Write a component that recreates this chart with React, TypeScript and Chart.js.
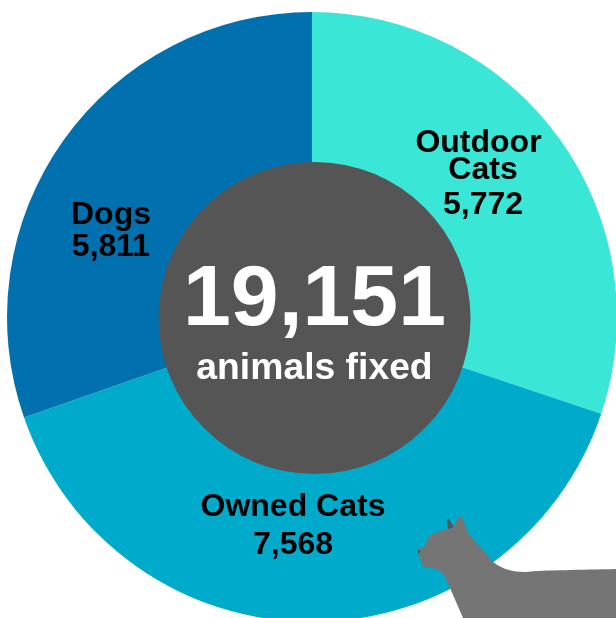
import React, { useEffect, useRef } from "react";
import { Chart, registerables } from "chart.js";

Chart.register(...registerables);

const categories = ["Outdoor Cats", "Owned Cats", "Dogs"];
const values = [5772, 7568, 5811];
const colors = ["#3AE6D6", "#00AACA", "#0170AE"];
const totalLabel = "19,151";
const subLabel = "animals fixed";
const sliceLabels = [
  { lines: ["Outdoor", "Cats", "5,772"], xs: [478.5, 483, 483], ys: [143, 170, 205] },
  { lines: ["Owned Cats", "7,568"], xs: [293, 293], ys: [507, 545] },
  { lines: ["Dogs", "5,811"], xs: [111, 111], ys: [215, 247] },
];

const FONT = '"Liberation Sans", Arial, sans-serif';

const overlay = {
  id: "overlay",
  afterDatasetsDraw(chart: Chart) {
    const { ctx } = chart;
    ctx.save();
    ctx.fillStyle = "#555555";
    ctx.beginPath();
    ctx.arc(314.5, 318, 156, 0, Math.PI * 2);
    ctx.fill();
    ctx.textAlign = "center";
    ctx.textBaseline = "middle";
    ctx.fillStyle = "#000000";
    ctx.font = `bold 32px ${FONT}`;
    sliceLabels.forEach((l) => {
      l.lines.forEach((t, i) => ctx.fillText(t, l.xs[i], l.ys[i]));
    });
    ctx.fillStyle = "#FFFFFF";
    ctx.font = `bold 86px ${FONT}`;
    ctx.fillText(totalLabel, 314.5, 301);
    ctx.font = `bold 37.3px ${FONT}`;
    ctx.fillText(subLabel, 314.5, 369);
    ctx.restore();
  },
};

export default function App() {
  const ref = useRef<HTMLCanvasElement>(null);
  useEffect(() => {
    const chart = new Chart(ref.current!, {
      type: "doughnut",
      data: {
        labels: categories,
        datasets: [{ data: values, backgroundColor: colors, borderWidth: 0 }],
      },
      options: {
        animation: false,
        responsive: false,
        cutout: "40%",
        layout: { padding: 7 },
        plugins: { legend: { display: false }, tooltip: { enabled: false } },
      },
      plugins: [overlay],
    });
    return () => chart.destroy();
  }, []);
  return (
    <div style={{ position: "absolute", left: 0, top: 0, width: 616, height: 618, overflow: "hidden", background: "#fff" }}>
      <canvas ref={ref} width={624} height={634} style={{ position: "absolute", left: 0, top: 0, width: 624, height: 634 }} />
      <svg width={616} height={618} style={{ position: "absolute", left: 0, top: 0 }}>
        <path
          fill="#757575"
          d="M417 550 L425 546 C427 541 428 537 431 535 C436 531 446 530 453 528 L459 516 L462 517 L468 533 L493 562 C502 569 512 572 525 572 C545 570 580 570 616 569 L616 618 L463 618 L450 588 L444 575 C440 570 434 567 424 568 Z"
        />
        <path fill="#555555" d="M447 519 L449 519 L454 527 L448 529 Z" />
        <path fill="#555555" d="M417 550 L421 551 L418 554 Z" />
      </svg>
    </div>
  );
}
